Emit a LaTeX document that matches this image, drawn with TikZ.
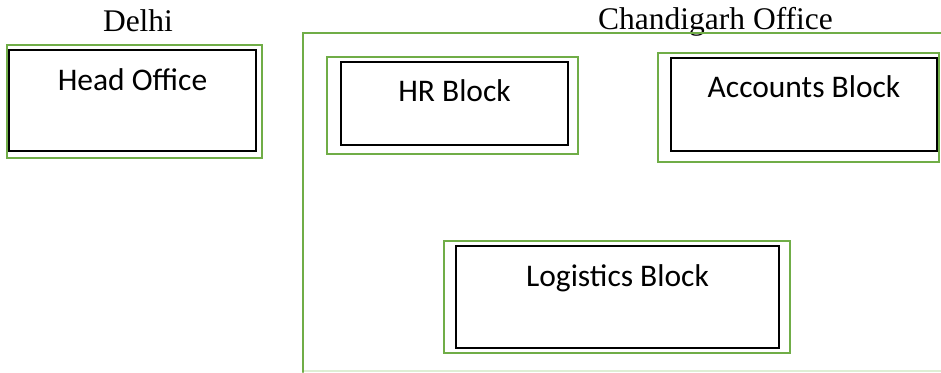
\documentclass[tikz,border=0pt]{standalone}
\usepackage{fontspec}
\setmainfont{Liberation Serif}
\newfontfamily\blockfont{Carlito}
\usetikzlibrary{positioning}
\definecolor{officegreen}{RGB}{112,173,71}
\definecolor{palegreen}{RGB}{222,238,212}

\begin{document}
\begin{tikzpicture}[line cap=round, x=1pt, y=-1pt,
    outbox/.style={rectangle, draw=officegreen, line width=2.8pt, inner sep=0pt},
    inbox/.style={rectangle, draw=black, line width=2.3pt, inner sep=0pt},
    blocktext/.style={inner sep=0pt, font=\blockfont\fontsize{31.5}{38}\selectfont},
    placetext/.style={inner sep=0pt, anchor=base, font=\fontsize{31.5}{38}\selectfont}]
                    \useasboundingbox (0,0) rectangle (941,372);

                    % Delhi
                    \node[placetext] (delhi) at (138,31) {Delhi};
                    \node[outbox, minimum width=255pt, minimum height=113pt] (headgreen) at (134.5,101.5) {};
                    \node[inbox, minimum width=247pt, minimum height=101pt] (head) at (132.5,100.5) {};
                    \node[blocktext, below=42pt of head.north, anchor=base] (headtext) {Head Office};

                    % Chandigarh office frame
                    \node[placetext] (chandigarh) at (715.5,29) {Chandigarh Office};
                    \coordinate (frameNE) at (941,33);
                    \coordinate (frameNW) at (303,33);
                    \coordinate (frameSW) at (303,372);
                    \coordinate (frameBW) at (303,371);
                    \coordinate (frameSE) at (941,371);
                    \draw[palegreen, line width=1.6pt] (frameBW) -- (frameSE);
                    \draw[officegreen, line width=2.8pt] (frameNE) -- (frameNW) -- (frameSW);

                    \node[outbox, minimum width=251pt, minimum height=97pt] (hrgreen) at (452.5,105.5) {};
                    \node[inbox, line width=1.3pt, minimum width=227pt, minimum height=83pt] (hr) at (454.5,103.5) {};
                    \node[blocktext, below=40pt of hr.north, anchor=base] (hrtext) {HR Block};

                    \node[outbox, minimum width=281pt, minimum height=109pt] (accountsgreen) at (798.5,107.5) {};
                    \node[inbox, minimum width=266pt, minimum height=93pt] (accounts) at (804,104.5) {};
                    \node[blocktext, below=41pt of accounts.north, anchor=base] (accountstext) {Accounts Block};

                    \node[outbox, minimum width=346pt, minimum height=112pt] (logisticsgreen) at (617,297) {};
                    \node[inbox, minimum width=323pt, minimum height=102pt] (logistics) at (617.5,297) {};
                    \node[blocktext, below=42pt of logistics.north, anchor=base] (logisticstext) {Logistics Block};
                \end{tikzpicture}
\end{document}
